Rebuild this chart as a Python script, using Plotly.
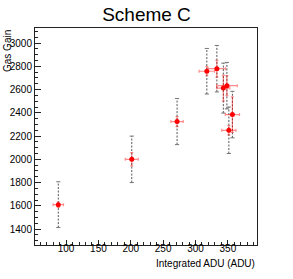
import plotly.graph_objects as go

# Data (Integrated ADU vs Gas Gain)
adu = [88, 201.5, 271.5, 317.5, 333, 343, 348.5, 351.5, 357]
gain = [1610, 2000, 2325, 2758, 2780, 2613, 2634, 2250, 2385]
adu_err = [8, 10, 9.5, 12, 13.5, 10, 16, 11, 11]
gain_err = [23, 57, 43, 39, 72, 110, 86, 40, 153]
gain_sys = [197, 200, 198, 196, 200, 215, 200, 200, 200]

x_title = "Integrated ADU (ADU)"
y_title = "Gas Gain"
title = "Scheme C"

FONT = "Liberation Sans, Arial, sans-serif"

# gray dashed systematic bars built from the data
sx, sy = [], []
for x, y, s in zip(adu, gain, gain_sys):
    sx += [x, x, None]
    sy += [y - s, y + s, None]

fig = go.Figure()
fig.add_trace(go.Scatter(
    x=sx, y=sy, mode="lines",
    line=dict(color="#555555", width=1, dash="2px,1.5px"),
    hoverinfo="skip", showlegend=False))
cx, cy = [], []
for x, y, s in zip(adu, gain, gain_sys):
    cx += [x, x]
    cy += [y - s, y + s]
fig.add_trace(go.Scatter(
    x=cx, y=cy, mode="markers",
    marker=dict(symbol="line-ew", size=3, line=dict(color="#777777", width=1)),
    hoverinfo="skip", showlegend=False))
fig.add_trace(go.Scatter(
    x=adu, y=gain, mode="markers",
    marker=dict(symbol="circle", size=5, color="red"),
    error_x=dict(type="data", array=adu_err, color="rgba(255,0,0,0.45)", thickness=1.2, width=1.5),
    error_y=dict(type="data", array=gain_err, color="rgba(255,0,0,0.45)", thickness=1.2, width=1.5),
    showlegend=False))

axis_common = dict(
    showgrid=False, zeroline=False, showline=True, mirror=True, automargin=False,
    linecolor="#222222", linewidth=1, ticks="inside",
    tickcolor="#222222", tickfont=dict(family=FONT, size=10, color="black"),
)
fig.update_xaxes(range=[52, 395], tick0=0, dtick=50, ticklen=5, ticklabelstandoff=-6,
                 minor=dict(dtick=10, ticks="inside", ticklen=3, tickcolor="#222222"),
                 **axis_common)
fig.update_yaxes(range=[1263, 3130], tick0=0, dtick=200, ticklen=6,
                 minor=dict(dtick=50, ticks="inside", ticklen=3, tickcolor="#222222"),
                 **axis_common)

fig.update_layout(
    width=293, height=279,
    margin=dict(l=35, r=36, t=28, b=34),
    paper_bgcolor="white", plot_bgcolor="white",
    title=dict(text=title, x=0.5, xanchor="center", y=1 - 14 / 279, yanchor="middle",
               yref="container", font=dict(family=FONT, size=19, color="black")),
    annotations=[
        dict(text=x_title, xref="paper", yref="paper", x=1, y=0, xanchor="right",
             yanchor="middle", yshift=-18, showarrow=False,
             font=dict(family=FONT, size=10, color="black")),
        dict(text=y_title, xref="paper", yref="paper", x=0, y=1, xanchor="center",
             yanchor="top", xshift=-28, textangle=-90, showarrow=False,
             font=dict(family=FONT, size=10, color="black")),
    ],
)

fig.write_html("out.html", config={"displayModeBar": False},
               post_script="document.body.style.margin='0';")
